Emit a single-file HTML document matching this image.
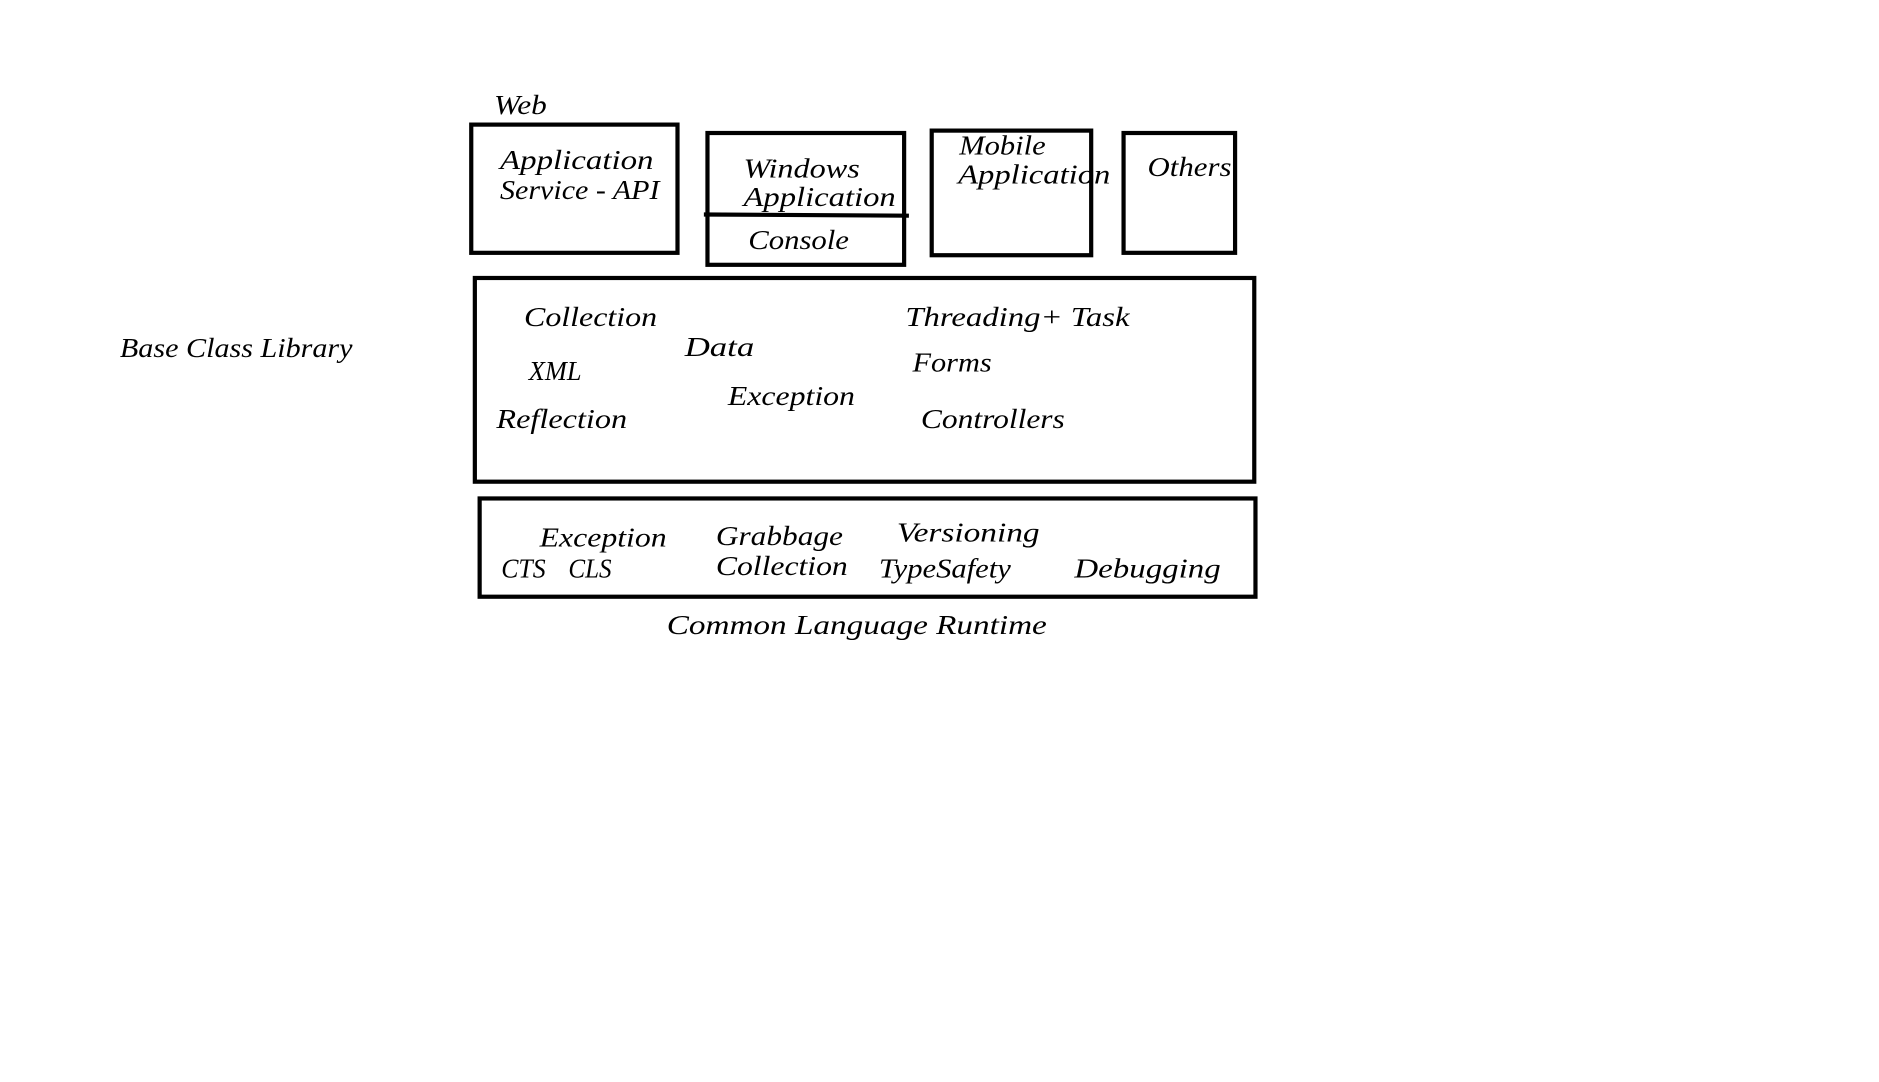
<!DOCTYPE html>
<html><head><meta charset="utf-8"><style>
html,body{margin:0;padding:0;background:#fff;}
svg{display:block;}
text{font-family:"Liberation Serif",serif;font-style:italic;font-size:23px;fill:#000;}
</style></head><body>
<svg width="1879" height="1082" viewBox="0 0 1567 903" preserveAspectRatio="none" xmlns="http://www.w3.org/2000/svg">
<rect width="1567" height="903" fill="#fff"/>
<g fill="none" stroke="#000" stroke-width="3.5">
<rect x="393" y="104" width="172" height="107"/>
<rect x="590" y="111" width="164" height="110"/>
<line x1="587" y1="179" x2="758" y2="180"/>
<rect x="777" y="109" width="133" height="104"/>
<rect x="937" y="111" width="93" height="100"/>
<rect x="396" y="232" width="650" height="170"/>
<rect x="400" y="416" width="647" height="82"/>
</g>
<g transform="translate(0,2)">
<text x="412" y="93" textLength="44" lengthAdjust="spacingAndGlyphs">Web</text>
<text x="417" y="139" textLength="128" lengthAdjust="spacingAndGlyphs">Application</text>
<text x="417" y="164" textLength="133" lengthAdjust="spacingAndGlyphs">Service - API</text>
<text x="620" y="146" textLength="97" lengthAdjust="spacingAndGlyphs">Windows</text>
<text x="620" y="170" textLength="127" lengthAdjust="spacingAndGlyphs">Application</text>
<text x="624" y="206" textLength="84" lengthAdjust="spacingAndGlyphs">Console</text>
<text x="800" y="127" textLength="72" lengthAdjust="spacingAndGlyphs">Mobile</text>
<text x="799" y="151" textLength="127" lengthAdjust="spacingAndGlyphs">Application</text>
<text x="957" y="145" textLength="70" lengthAdjust="spacingAndGlyphs">Others</text>
<text x="437" y="270" textLength="111" lengthAdjust="spacingAndGlyphs">Collection</text>
<text x="571" y="295" textLength="58" lengthAdjust="spacingAndGlyphs">Data</text>
<text x="441" y="315" textLength="44" lengthAdjust="spacingAndGlyphs">XML</text>
<text x="414" y="355" textLength="109" lengthAdjust="spacingAndGlyphs">Reflection</text>
<text x="607" y="336" textLength="106" lengthAdjust="spacingAndGlyphs">Exception</text>
<text x="755" y="270" textLength="187" lengthAdjust="spacingAndGlyphs">Threading+ Task</text>
<text x="761" y="308" textLength="66" lengthAdjust="spacingAndGlyphs">Forms</text>
<text x="768" y="355" textLength="120" lengthAdjust="spacingAndGlyphs">Controllers</text>
<text x="450" y="454" textLength="106" lengthAdjust="spacingAndGlyphs">Exception</text>
<text x="418" y="480" textLength="37" lengthAdjust="spacingAndGlyphs">CTS</text>
<text x="474" y="480" textLength="36" lengthAdjust="spacingAndGlyphs">CLS</text>
<text x="597" y="453" textLength="106" lengthAdjust="spacingAndGlyphs">Grabbage</text>
<text x="597" y="478" textLength="110" lengthAdjust="spacingAndGlyphs">Collection</text>
<text x="748" y="450" textLength="119" lengthAdjust="spacingAndGlyphs">Versioning</text>
<text x="733" y="480" textLength="110" lengthAdjust="spacingAndGlyphs">TypeSafety</text>
<text x="896" y="480" textLength="122" lengthAdjust="spacingAndGlyphs">Debugging</text>
<text x="100" y="296" textLength="194" lengthAdjust="spacingAndGlyphs">Base Class Library</text>
<text x="556" y="527" textLength="317" lengthAdjust="spacingAndGlyphs">Common Language Runtime</text>
</g>
</svg>
</body></html>
